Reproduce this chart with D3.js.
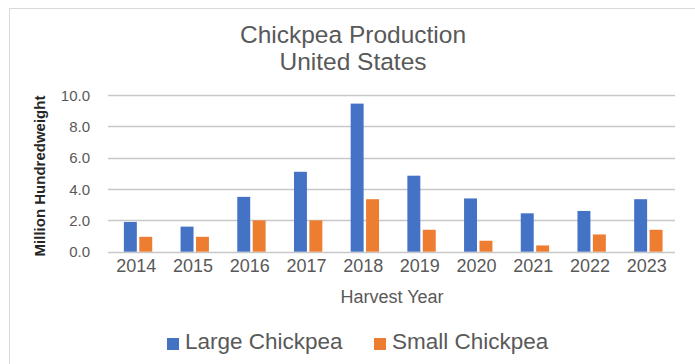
<!DOCTYPE html>
<html>
<head>
<meta charset="utf-8">
<script src="https://cdn.jsdelivr.net/npm/d3@7"></script>
<style>
  body { margin: 0; background: #fff; }
  text { font-family: "Liberation Sans", Arial, sans-serif; }
</style>
</head>
<body>
<div id="chart"></div>
<script>
const years = ["2014", "2015", "2016", "2017", "2018", "2019", "2020", "2021", "2022", "2023"]
const largeChickpea = [1.9, 1.6, 3.5, 5.1, 9.45, 4.85, 3.4, 2.45, 2.6, 3.35]
const smallChickpea = [0.95, 0.95, 2.0, 2.0, 3.35, 1.4, 0.7, 0.4, 1.1, 1.4]
const seriesNames = ["Large Chickpea", "Small Chickpea"]
const yTicks = [0, 2, 4, 6, 8, 10]

const width = 695, height = 364
const margin = {top: 95, right: 20, bottom: 112, left: 108}

let color = d3.scaleOrdinal().domain(seriesNames).range(["#4472C4", "#ED7D31"])

let data = years.map((y, i) => ({year: y, values: [largeChickpea[i], smallChickpea[i]]}))

let x = d3.scaleBand()
  .domain(years)
  .range([margin.left, width - margin.right])

let x1 = d3.scaleBand()
  .domain(seriesNames)
  .range([x.bandwidth() * 0.28, x.bandwidth() * 0.78])
  .paddingInner(0.16)

let y = d3.scaleLinear()
  .domain([0, 10])
  .range([height - margin.bottom - 0.3, margin.top])

const svg = d3.select("#chart").append("svg")
  .attr("width", width).attr("height", height)

// chart frame
svg.append("rect")
  .attr("x", 9.5).attr("y", 8.5).attr("width", 700).attr("height", 370)
  .attr("fill", "none").attr("stroke", "#d9d9d9")

// gridlines
svg.append("g")
  .selectAll("line")
  .data(yTicks)
  .join("line")
  .attr("x1", margin.left).attr("x2", width - margin.right)
  .attr("y1", d => Math.round(y(d)) + 0.5).attr("y2", d => Math.round(y(d)) + 0.5)
  .attr("stroke", "#c8c8c8").attr("stroke-width", 1.4)

// y axis labels
svg.append("g")
  .attr("transform", `translate(${margin.left - 15},0)`)
  .call(d3.axisLeft(y).tickValues(yTicks).tickFormat(d3.format(".1f")).tickSize(0))
  .call(g => g.select(".domain").remove())
  .call(g => g.selectAll("text")
    .attr("fill", "#595959").attr("font-size", 15).attr("dy", "0.35em"))

// x axis labels
svg.append("g")
  .attr("transform", `translate(0,${height - margin.bottom})`)
  .call(d3.axisBottom(x).tickSize(0))
  .call(g => g.select(".domain").remove())
  .call(g => g.selectAll("text")
    .attr("fill", "#595959").attr("font-size", 18).attr("dy", "0.95em"))

// bars
svg.append("g")
  .selectAll("g")
  .data(data)
  .join("g")
  .attr("transform", d => `translate(${x(d.year)},0)`)
  .selectAll("rect")
  .data(d => d.values.map((v, i) => ({key: seriesNames[i], value: v})))
  .join("rect")
  .attr("x", d => x1(d.key))
  .attr("width", x1.bandwidth())
  .attr("y", d => y(d.value))
  .attr("height", d => y(0) - y(d.value))
  .attr("fill", d => color(d.key))

// title
svg.append("text")
  .attr("x", 353).attr("y", 43)
  .attr("text-anchor", "middle").attr("font-size", 24.5).attr("fill", "#595959")
  .text("Chickpea Production")
svg.append("text")
  .attr("x", 353).attr("y", 70)
  .attr("text-anchor", "middle").attr("font-size", 24.5).attr("fill", "#595959")
  .text("United States")

// axis titles
svg.append("text")
  .attr("transform", "translate(45,176) rotate(-90)")
  .attr("text-anchor", "middle").attr("font-size", 15).attr("font-weight", "bold")
  .attr("fill", "#262626")
  .text("Million Hundredweight")

svg.append("text")
  .attr("x", 392).attr("y", 303)
  .attr("text-anchor", "middle").attr("font-size", 18).attr("fill", "#595959")
  .text("Harvest Year")

// legend
let legend = svg.append("g")
  .selectAll("g")
  .data(seriesNames)
  .join("g")
  .attr("transform", (d, i) => `translate(${[167, 374][i]},338)`)
legend.append("rect")
  .attr("width", 12).attr("height", 12)
  .attr("fill", d => color(d))
legend.append("text")
  .attr("x", 18).attr("y", 11)
  .attr("font-size", 22.5).attr("fill", "#595959")
  .text(d => d)
</script>
</body>
</html>
